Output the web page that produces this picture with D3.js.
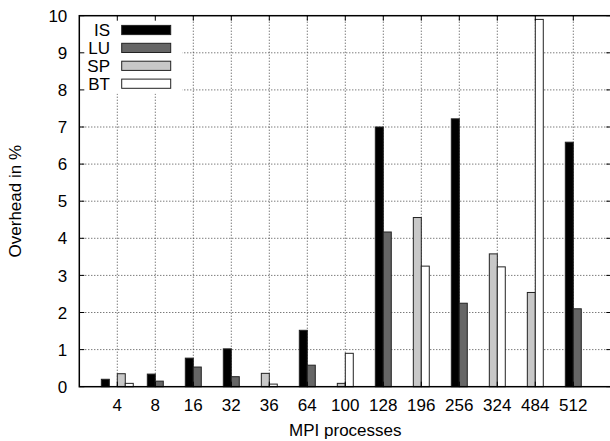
<!DOCTYPE html>
<html lang="en">
<head>
  <title>MPI overhead</title>
  <script type="text/javascript" src="https://cdn.jsdelivr.net/npm/d3@7"></script>
  <style>
    body { margin: 0px; background: white; }
    svg { display: block; }
    text { font-family: "Liberation Sans", Arial, sans-serif; fill: black; }
  </style>
</head>
<body>
  <script type="text/javascript">
    // Data
    var categories = ["4", "8", "16", "32", "36", "64", "100", "128", "196", "256", "324", "484", "512"];
    var seriesNames = ["IS", "LU", "SP", "BT"];
    var isValues = [0.2, 0.34, 0.77, 1.02, null, 1.52, null, 7.0, null, 7.22, null, null, 6.59];
    var luValues = [0, 0.15, 0.53, 0.27, null, 0.58, null, 4.17, null, 2.25, null, null, 2.1];
    var spValues = [0.35, null, null, null, 0.36, null, 0.09, null, 4.56, null, 3.58, 2.54, null];
    var btValues = [0.09, null, null, null, 0.07, null, 0.9, null, 3.25, null, 3.23, 9.9, null];
    var yTicks = [0, 1, 2, 3, 4, 5, 6, 7, 8, 9, 10];
    var fills = ["#000000", "#666666", "#c8c8c8", "#ffffff"];

    var width = 610, height = 441;
    var plotLeft = 79.3, plotRight = 611.3, plotTop = 15.7, plotBottom = 386.7;

    var svg = d3.select("body").append("svg")
      .attr("width", width)
      .attr("height", height);

    var x = d3.scalePoint().domain(categories).range([plotLeft, plotRight]).padding(1);
    var y = d3.scaleLinear().domain([0, 10]).range([plotBottom, plotTop]);
    var barWidth = x.step() * 0.21;

    var allSeries = [isValues, luValues, spValues, btValues];

    // Grid
    var grid = svg.append("g")
      .attr("stroke", "#444")
      .attr("stroke-width", 1)
      .attr("stroke-dasharray", "1,2");
    grid.selectAll("line.h")
      .data(yTicks.slice(1, -1))
      .enter().append("line")
      .attr("x1", plotLeft).attr("x2", plotRight)
      .attr("y1", function(d) { return y(d); })
      .attr("y2", function(d) { return y(d); });
    grid.selectAll("line.v")
      .data(categories)
      .enter().append("line")
      .attr("y1", plotTop).attr("y2", plotBottom)
      .attr("x1", function(d) { return x(d); })
      .attr("x2", function(d) { return x(d); });

    // Key background (opaque)
    svg.append("rect")
      .attr("x", plotLeft + 1).attr("y", plotTop + 1)
      .attr("width", 102).attr("height", 77)
      .attr("fill", "white");

    // Bars: series present in a category are centred on its tick
    var bars = [];
    categories.forEach(function(c, i) {
      var present = [];
      allSeries.forEach(function(s, j) { if (s[i] !== null) present.push(j); });
      present.forEach(function(j, k) {
        bars.push({cat: c, series: j, value: allSeries[j][i], offset: (k - present.length / 2) * barWidth});
      });
    });

    svg.selectAll("rect.bar")
      .data(bars)
      .enter().append("rect")
      .attr("class", "bar")
      .attr("x", function(d) { return x(d.cat) + d.offset; })
      .attr("y", function(d) { return y(d.value); })
      .attr("width", barWidth)
      .attr("height", function(d) { return y(0) - y(d.value); })
      .attr("fill", function(d) { return fills[d.series]; })
      .attr("stroke", "#222")
      .attr("stroke-width", 1);

    // Ticks (inward, mirrored)
    var ticks = svg.append("g").attr("stroke", "black").attr("stroke-width", 1);
    yTicks.forEach(function(t) {
      ticks.append("line").attr("x1", plotLeft).attr("x2", plotLeft + 5).attr("y1", y(t)).attr("y2", y(t));
      ticks.append("line").attr("x1", plotRight).attr("x2", plotRight - 5).attr("y1", y(t)).attr("y2", y(t));
    });
    categories.forEach(function(c) {
      ticks.append("line").attr("x1", x(c)).attr("x2", x(c)).attr("y1", plotBottom).attr("y2", plotBottom - 5);
      ticks.append("line").attr("x1", x(c)).attr("x2", x(c)).attr("y1", plotTop).attr("y2", plotTop + 5);
    });

    // Border
    svg.append("rect")
      .attr("x", plotLeft).attr("y", plotTop)
      .attr("width", plotRight - plotLeft).attr("height", plotBottom - plotTop)
      .attr("fill", "none")
      .attr("stroke", "black")
      .attr("stroke-width", 1.5);

    // Tick labels
    svg.selectAll("text.ytick")
      .data(yTicks)
      .enter().append("text")
      .attr("x", plotLeft - 12)
      .attr("y", function(d) { return y(d); })
      .attr("dy", "0.36em")
      .attr("text-anchor", "end")
      .style("font-size", "17px")
      .text(function(d) { return d; });

    svg.selectAll("text.xtick")
      .data(categories)
      .enter().append("text")
      .attr("x", function(d) { return x(d); })
      .attr("y", 411)
      .attr("text-anchor", "middle")
      .style("font-size", "17px")
      .text(function(d) { return d; });

    // Axis titles
    svg.append("text")
      .attr("x", (plotLeft + plotRight) / 2)
      .attr("y", 435.5)
      .attr("text-anchor", "middle")
      .style("font-size", "17px")
      .text("MPI processes");

    svg.append("text")
      .attr("transform", "translate(21," + ((plotTop + plotBottom) / 2) + ") rotate(-90)")
      .attr("text-anchor", "middle")
      .style("font-size", "17px")
      .text("Overhead in %");

    // Key
    var key = svg.append("g");
    seriesNames.forEach(function(name, i) {
      var ky = 30 + i * 17.9;
      key.append("text")
        .attr("x", 110).attr("y", ky).attr("dy", "0.36em")
        .attr("text-anchor", "end")
        .style("font-size", "17px")
        .text(name);
      key.append("rect")
        .attr("x", 121.7).attr("y", ky - 4.6)
        .attr("width", 49).attr("height", 9.2)
        .attr("fill", fills[i])
        .attr("stroke", "#222")
        .attr("stroke-width", 1);
    });
  </script>
</body>
</html>
